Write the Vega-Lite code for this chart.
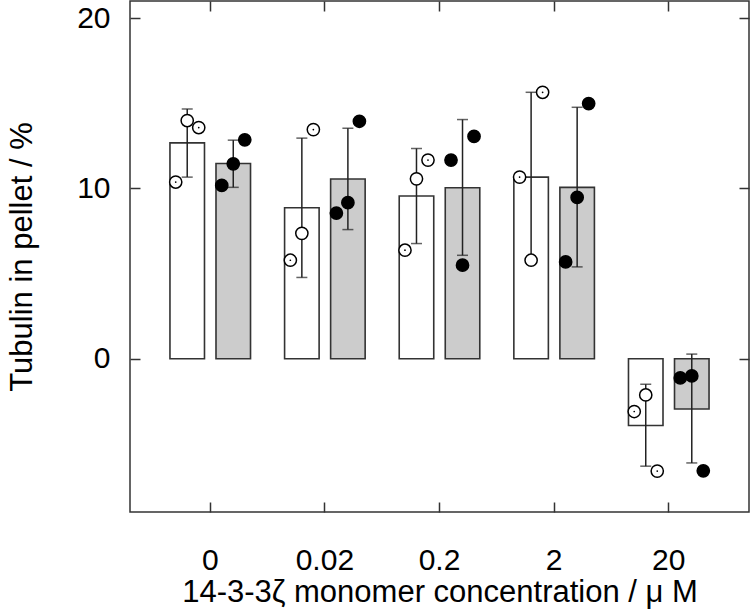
{
  "$schema": "https://vega.github.io/schema/vega-lite/v6.json",
  "width": 619,
  "height": 511,
  "autosize": "none",
  "padding": {"left": 130, "top": 1, "right": 2, "bottom": 99},
  "background": "white",
  "config": {
    "view": {"stroke": "#333333", "strokeWidth": 1.5},
    "font": "Liberation Sans",
    "axis": {
      "domain": false,
      "grid": false,
      "tickSize": -10,
      "tickWidth": 1.5,
      "tickColor": "#333333",
      "labelFont": "Liberation Sans",
      "labelFontSize": 30,
      "labelColor": "black",
      "titleFont": "Liberation Sans",
      "titleFontSize": 31,
      "titleFontWeight": "normal",
      "titleColor": "black"
    }
  },
  "datasets": {
    "bars": [
      {"conc": "0", "series": "white", "mean": 12.67, "lo": 10.66, "hi": 14.66},
      {"conc": "0", "series": "gray", "mean": 11.46, "lo": 10.06, "hi": 12.83},
      {"conc": "0.02", "series": "white", "mean": 8.86, "lo": 4.77, "hi": 12.95},
      {"conc": "0.02", "series": "gray", "mean": 10.55, "lo": 7.58, "hi": 13.53},
      {"conc": "0.2", "series": "white", "mean": 9.55, "lo": 6.76, "hi": 12.34},
      {"conc": "0.2", "series": "gray", "mean": 10.04, "lo": 6.07, "hi": 14.04},
      {"conc": "2", "series": "white", "mean": 10.66, "lo": 5.70, "hi": 15.64},
      {"conc": "2", "series": "gray", "mean": 10.06, "lo": 5.39, "hi": 14.76},
      {"conc": "20", "series": "white", "mean": -3.92, "lo": -6.31, "hi": -1.50},
      {"conc": "20", "series": "gray", "mean": -2.95, "lo": -6.12, "hi": 0.27}
    ],
    "pts": [
      {"conc": "0", "series": "white", "sample": "w1", "value": 10.37},
      {"conc": "0", "series": "white", "sample": "w2", "value": 13.98},
      {"conc": "0", "series": "white", "sample": "w3", "value": 13.57},
      {"conc": "0", "series": "gray", "sample": "g1", "value": 10.17},
      {"conc": "0", "series": "gray", "sample": "g2", "value": 11.44},
      {"conc": "0", "series": "gray", "sample": "g3", "value": 12.85},
      {"conc": "0.02", "series": "white", "sample": "w1", "value": 5.78},
      {"conc": "0.02", "series": "white", "sample": "w2", "value": 7.36},
      {"conc": "0.02", "series": "white", "sample": "w3", "value": 13.45},
      {"conc": "0.02", "series": "gray", "sample": "g1", "value": 8.55},
      {"conc": "0.02", "series": "gray", "sample": "g2", "value": 9.16},
      {"conc": "0.02", "series": "gray", "sample": "g3", "value": 13.94},
      {"conc": "0.2", "series": "white", "sample": "w1", "value": 6.37},
      {"conc": "0.2", "series": "white", "sample": "w2", "value": 10.56},
      {"conc": "0.2", "series": "white", "sample": "w3", "value": 11.66},
      {"conc": "0.2", "series": "gray", "sample": "g1", "value": 11.66},
      {"conc": "0.2", "series": "gray", "sample": "g2", "value": 5.49},
      {"conc": "0.2", "series": "gray", "sample": "g3", "value": 13.05},
      {"conc": "2", "series": "white", "sample": "w1", "value": 10.66},
      {"conc": "2", "series": "white", "sample": "w2", "value": 5.78},
      {"conc": "2", "series": "white", "sample": "w3", "value": 15.64},
      {"conc": "2", "series": "gray", "sample": "g1", "value": 5.68},
      {"conc": "2", "series": "gray", "sample": "g2", "value": 9.47},
      {"conc": "2", "series": "gray", "sample": "g3", "value": 14.98},
      {"conc": "20", "series": "white", "sample": "w1", "value": -3.10},
      {"conc": "20", "series": "white", "sample": "w2", "value": -2.13},
      {"conc": "20", "series": "white", "sample": "w3", "value": -6.60},
      {"conc": "20", "series": "gray", "sample": "g1", "value": -1.13},
      {"conc": "20", "series": "gray", "sample": "g2", "value": -1.01},
      {"conc": "20", "series": "gray", "sample": "g3", "value": -6.58}
    ]
  },
  "resolve": {
    "axis": {"x": "independent", "y": "independent"},
    "scale": {"xOffset": "independent", "fill": "independent"}
  },
  "layer": [
    {
      "data": {"name": "bars"},
      "mark": {"type": "bar", "stroke": "#333333", "strokeWidth": 1.6},
      "encoding": {
        "x": {
          "field": "conc", "type": "nominal",
          "scale": {"domain": ["0", "0.02", "0.2", "2", "20"], "paddingInner": 0, "paddingOuter": 0.2},
          "axis": {"orient": "bottom", "labelAngle": 0, "labelPadding": 43, "title": "14-3-3ζ monomer concentration / μ M", "titlePadding": 2}
        },
        "xOffset": {
          "field": "series", "type": "nominal",
          "scale": {"domain": ["white", "gray"], "paddingInner": 0.25, "paddingOuter": 0.37}
        },
        "y": {
          "field": "mean", "type": "quantitative",
          "scale": {"domain": [-9, 21], "nice": false, "zero": false},
          "axis": {"orient": "left", "values": [0, 10, 20], "labelPadding": 30, "title": "Tubulin in pellet / %", "titlePadding": 38}
        },
        "fill": {
          "field": "series", "type": "nominal",
          "scale": {"domain": ["white", "gray"], "range": ["white", "#cccccc"]},
          "legend": null
        }
      }
    },
    {
      "data": {"name": "bars"},
      "mark": {"type": "rule", "stroke": "#222222", "strokeWidth": 1.5},
      "encoding": {
        "x": {
          "field": "conc", "type": "nominal",
          "scale": {"domain": ["0", "0.02", "0.2", "2", "20"], "paddingInner": 0, "paddingOuter": 0.2},
          "axis": {"orient": "top", "labels": false, "title": null}
        },
        "xOffset": {
          "field": "series", "type": "nominal",
          "scale": {"domain": ["white", "gray"], "paddingInner": 0.25, "paddingOuter": 0.37}
        },
        "y": {
          "field": "lo", "type": "quantitative",
          "scale": {"domain": [-9, 21], "nice": false, "zero": false},
          "axis": {"orient": "right", "values": [0, 10, 20], "labels": false, "title": null}
        },
        "y2": {"field": "hi"}
      }
    },
    {
      "data": {"name": "bars"},
      "mark": {"type": "tick", "color": "#222222", "size": 11, "thickness": 1.5},
      "encoding": {
        "x": {"field": "conc", "type": "nominal", "scale": {"domain": ["0", "0.02", "0.2", "2", "20"], "paddingInner": 0, "paddingOuter": 0.2}, "axis": null},
        "xOffset": {"field": "series", "type": "nominal", "scale": {"domain": ["white", "gray"], "paddingInner": 0.25, "paddingOuter": 0.37}},
        "y": {"field": "lo", "type": "quantitative", "scale": {"domain": [-9, 21], "nice": false, "zero": false}, "axis": null}
      }
    },
    {
      "data": {"name": "bars"},
      "mark": {"type": "tick", "color": "#222222", "size": 11, "thickness": 1.5},
      "encoding": {
        "x": {"field": "conc", "type": "nominal", "scale": {"domain": ["0", "0.02", "0.2", "2", "20"], "paddingInner": 0, "paddingOuter": 0.2}, "axis": null},
        "xOffset": {"field": "series", "type": "nominal", "scale": {"domain": ["white", "gray"], "paddingInner": 0.25, "paddingOuter": 0.37}},
        "y": {"field": "hi", "type": "quantitative", "scale": {"domain": [-9, 21], "nice": false, "zero": false}, "axis": null}
      }
    },
    {
      "data": {"name": "pts"},
      "mark": {"type": "point", "shape": "circle", "filled": true, "stroke": "black", "strokeWidth": 1.5, "size": 150, "opacity": 1},
      "encoding": {
        "x": {"field": "conc", "type": "nominal", "scale": {"domain": ["0", "0.02", "0.2", "2", "20"], "paddingInner": 0, "paddingOuter": 0.2}, "axis": null},
        "xOffset": {"field": "sample", "type": "nominal", "scale": {"type": "point", "domain": ["e1", "w1", "w2", "w3", "gap", "g1", "g2", "g3", "e2"], "padding": 0.98}},
        "y": {"field": "value", "type": "quantitative", "scale": {"domain": [-9, 21], "nice": false, "zero": false}, "axis": null},
        "fill": {"field": "series", "type": "nominal", "scale": {"domain": ["white", "gray"], "range": ["white", "black"]}, "legend": null}
      }
    },
    {
      "data": {"name": "pts"},
      "transform": [{"filter": {"field": "sample", "oneOf": ["w1", "w3"]}}],
      "mark": {"type": "point", "shape": "circle", "filled": true, "color": "black", "size": 3, "opacity": 1},
      "encoding": {
        "x": {"field": "conc", "type": "nominal", "scale": {"domain": ["0", "0.02", "0.2", "2", "20"], "paddingInner": 0, "paddingOuter": 0.2}, "axis": null},
        "xOffset": {"field": "sample", "type": "nominal", "scale": {"type": "point", "domain": ["e1", "w1", "w2", "w3", "gap", "g1", "g2", "g3", "e2"], "padding": 0.98}},
        "y": {"field": "value", "type": "quantitative", "scale": {"domain": [-9, 21], "nice": false, "zero": false}, "axis": null}
      }
    }
  ]
}
